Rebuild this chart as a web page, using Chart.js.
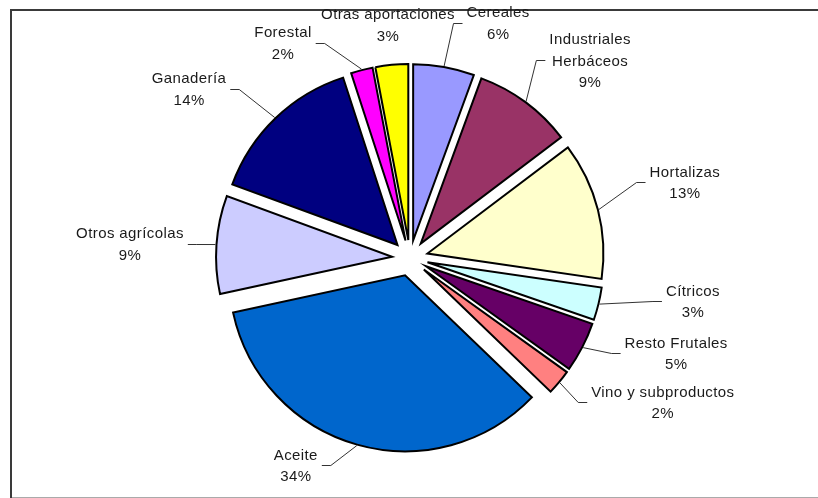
<!DOCTYPE html>
<html>
<head>
<meta charset="utf-8">
<script src="https://cdn.jsdelivr.net/npm/chart.js@4/dist/chart.umd.min.js"></script>
<style>
  html, body { margin: 0; padding: 0; background: #fff; }
  canvas { display: block; }
</style>
</head>
<body>
<canvas id="chart" width="818" height="498"></canvas>
<script>
// Sectores de la producción agraria (porcentaje del total)
const categories = [
  'Cereales', 'Industriales Herbáceos', 'Hortalizas', 'Cítricos', 'Resto Frutales',
  'Vino y subproductos', 'Aceite', 'Otros agrícolas', 'Ganadería', 'Forestal', 'Otras aportaciones'
];
const shares = [5.6, 9.1, 12.6, 3.0, 4.6, 2.3, 34.4, 9.0, 14.4, 2.0, 3.0];

// How each category name is broken over lines in its label
const labelLines = [
  ['Cereales'], ['Industriales', 'Herbáceos'], ['Hortalizas'], ['Cítricos'], ['Resto Frutales'],
  ['Vino y subproductos'], ['Aceite'], ['Otros agrícolas'], ['Ganadería'], ['Forestal'], ['Otras aportaciones']
];

const sliceColors = [
  '#9999FF', '#993366', '#FFFFCC', '#CCFFFF', '#660066',
  '#FF8080', '#0066CC', '#CCCCFF', '#000080', '#FF00FF', '#FFFF00'
];

// Label block centre, relative to the outer midpoint of its exploded slice
const labelOffsets = [
  [54, -43.5], [64, -41], [86, -27.5], [93.5, -3], [93, 5.4],
  [103, 19.5], [-61, 19.4], [-85.5, -1], [-85.7, -29], [-78.5, -26.5], [-3.6, -39.5]
];
const leaderShown = [true, true, true, true, true, true, true, true, true, true, false];

const EXPLODE = 18;
const LINE_H = 21.5;
const FONT = '15px "Liberation Sans", Arial, sans-serif';

// Every slice is pushed out along its own bisector by the same distance
const explodedPie = {
  id: 'explodedPie',
  beforeDatasetDraw(chart, args) {
    const ctx = chart.ctx;
    args.meta.data.forEach(arc => {
      const mid = (arc.startAngle + arc.endAngle) / 2;
      ctx.save();
      ctx.translate(Math.cos(mid) * EXPLODE, Math.sin(mid) * EXPLODE);
      arc.draw(ctx);
      ctx.restore();
    });
    return false;
  }
};

// White page with the frame lines around the plot
const frame = {
  id: 'frame',
  beforeDraw(chart) {
    const ctx = chart.ctx;
    ctx.save();
    ctx.fillStyle = '#fff';
    ctx.fillRect(0, 0, chart.width, chart.height);
    ctx.fillStyle = '#3a3a3a';
    ctx.fillRect(10, 9, chart.width - 10, 2);
    ctx.fillRect(10, 9, 2, chart.height - 9);
    ctx.fillStyle = '#aaaaaa';
    ctx.fillRect(12, 497, chart.width - 12, 1);
    ctx.restore();
  }
};

// Category + percentage labels with leader lines
const sliceLabels = {
  id: 'sliceLabels',
  afterDatasetsDraw(chart) {
    const ctx = chart.ctx;
    const meta = chart.getDatasetMeta(0);
    const data = chart.data.datasets[0].data;
    const total = data.reduce((a, b) => a + b, 0);
    ctx.save();
    ctx.font = FONT;
    if ('letterSpacing' in ctx) ctx.letterSpacing = '0.4px';
    meta.data.forEach((arc, i) => {
      const mid = (arc.startAngle + arc.endAngle) / 2;
      const r = arc.outerRadius + 1 + EXPLODE;
      const px = arc.x + Math.cos(mid) * r;
      const py = arc.y + Math.sin(mid) * r;
      const lines = labelLines[i].concat([Math.round(data[i] / total * 100) + '%']);
      const cx = px + labelOffsets[i][0];
      const cy = py + labelOffsets[i][1];
      const maxW = Math.max(...lines.map(t => ctx.measureText(t).width));

      if (leaderShown[i]) {
        const right = labelOffsets[i][0] > 0;
        const edgeX = right ? cx - maxW / 2 - 4 : cx + maxW / 2 + 4;
        const elbowX = right ? edgeX - 9 : edgeX + 9;
        const ly = Math.round(cy) + 0.5;
        ctx.strokeStyle = '#333';
        ctx.lineWidth = 1;
        ctx.beginPath();
        ctx.moveTo(px, py);
        ctx.lineTo(elbowX, ly);
        ctx.lineTo(edgeX, ly);
        ctx.stroke();
      }

      ctx.fillStyle = '#1a1a1a';
      ctx.textAlign = 'center';
      ctx.textBaseline = 'alphabetic';
      lines.forEach((t, k) => {
        const lineCenter = cy + (k - (lines.length - 1) / 2) * LINE_H;
        ctx.fillText(t, cx, lineCenter + 5.4);
      });
    });
    ctx.restore();
  }
};

new Chart(document.getElementById('chart'), {
  type: 'pie',
  data: {
    labels: categories,
    datasets: [{
      data: shares,
      backgroundColor: sliceColors,
      borderColor: '#000',
      borderWidth: 2,
      borderJoinStyle: 'miter'
    }]
  },
  options: {
    responsive: false,
    animation: false,
    radius: 176,
    layout: { padding: { left: 12, right: 10, top: 28, bottom: 10 } },
    plugins: {
      legend: { display: false },
      tooltip: { enabled: false }
    }
  },
  plugins: [frame, explodedPie, sliceLabels]
});
</script>
</body>
</html>
